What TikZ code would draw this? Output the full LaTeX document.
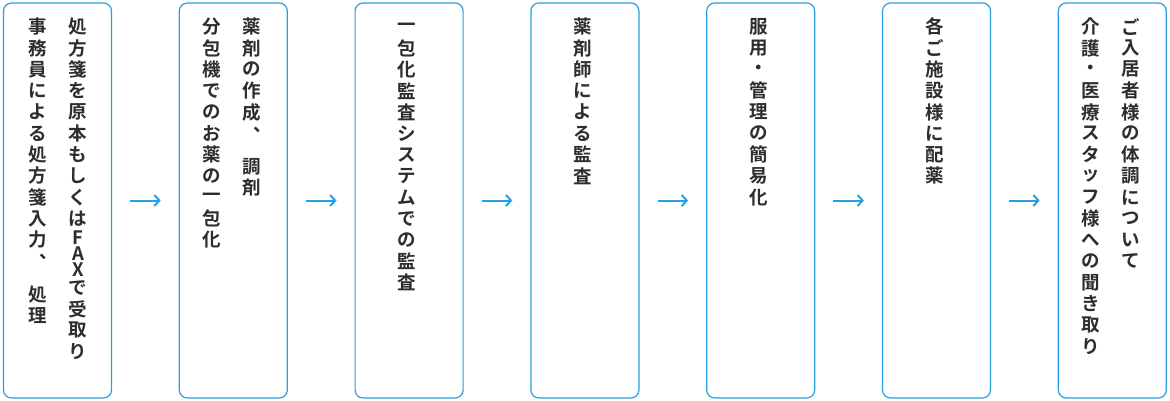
\documentclass[tikz,border=0pt]{standalone}
\usepackage{fontspec}
\setmainfont{Noto Sans CJK JP}[BoldFont={Noto Sans CJK JP Bold}]
\usetikzlibrary{arrows.meta}
\definecolor{stepblue}{RGB}{40,160,220}
\definecolor{textgray}{RGB}{45,45,45}
\makeatletter
\gdef\vhh{21.3pt}
\newcommand\vl[1]{\gdef\vhh{16pt}#1}
\newcommand\vcomma{\hbox to 18.5pt{\hskip 11pt\raise 9pt\hbox to 0pt{、\hss}\hss}}
\newcommand\vgap{\gdef\vhh{12pt}}
\newcommand\vcell{\setbox0\hbox to 20pt{\hss\vc\hss}\vbox to\vhh{\vss\box0\vss}\gdef\vhh{21.3pt}}
\newcommand\vcol[1]{\vbox{\offinterlineskip\@tfor\vc:=#1\do{\vcell}}}
\makeatother
\tikzset{
  stepbox/.style={draw=stepblue, line width=1.2pt, rounded corners=8pt,
    minimum width=108pt, minimum height=395pt, inner sep=0pt},
  coltext/.style={anchor=north, inner sep=0pt, text=textgray, font=\fontsize{18.5}{21}\selectfont\bfseries},
  steparrow/.style={draw=stepblue, line width=2pt, -{Straight Barb[length=5pt,width=11pt]},
    shorten <=18pt, shorten >=18pt}
}
\begin{document}
\begin{tikzpicture}[x=1pt,y=-1pt]
  \useasboundingbox (0,0) rectangle (1170,400);
  \foreach \i in {1,...,7}
    \node[stepbox] (b\i) at ({57.5+175.8*(\i-1)},200.5) {};
  % text columns, right to left
  \node[coltext] (t1a) at (78,16) {\vcol{処方箋を原本もしくは{\vl F}{\vl A}{\vl X}で受取り}};
  \node[coltext] (t1b) at (38,16) {\vcol{事務員による処方箋入力{\vcomma}{\vgap}処理}};
  \node[coltext] (t2a) at (252,16) {\vcol{薬剤の作成{\vcomma}{\vgap}調剤}};
  \node[coltext] (t2b) at (212,16) {\vcol{分包機でのお薬の一包化}};
  \node[coltext] (t3) at (407,16) {\vcol{一包化監査システムでの監査}};
  \node[coltext] (t4) at (583,16) {\vcol{薬剤師による監査}};
  \node[coltext] (t5) at (759,16) {\vcol{服用・管理の簡易化}};
  \node[coltext] (t6) at (935,16) {\vcol{各ご施設様に配薬}};
  \node[coltext] (t7a) at (1131,16) {\vcol{ご入居者様の体調について}};
  \node[coltext] (t7b) at (1091,16) {\vcol{介護・医療スタッフ様への聞き取り}};
  \foreach \i [evaluate=\i as \j using int(\i+1)] in {1,...,6}
    \draw[steparrow] (b\i.east) -- (b\j.west);
\end{tikzpicture}
\end{document}
